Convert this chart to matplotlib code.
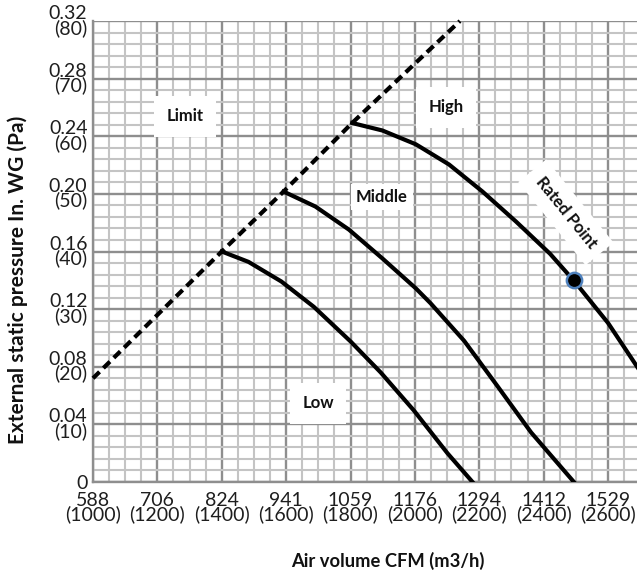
import numpy as np
import matplotlib
matplotlib.use("Agg")
import matplotlib.pyplot as plt
from matplotlib.ticker import MultipleLocator, FixedLocator

plt.rcParams['font.family'] = ['Lato', 'DejaVu Sans']

# --- data (x in m3/h, y in Pa) ---
limit_x = [1000, 1400, 1592, 1805, 2140]
limit_y = [18.0, 40.0, 50.4, 62.3, 80.0]

low_x = [1400, 1483, 1585, 1686, 1800, 1894, 1997, 2101, 2179]
low_y = [40.0, 38.2, 34.8, 30.4, 24.4, 19.0, 12.4, 5.0, 0.0]

mid_x = [1592, 1691, 1795, 1899, 2003, 2049, 2153, 2257, 2361, 2494]
mid_y = [50.4, 47.8, 43.8, 38.8, 33.6, 31.0, 24.5, 16.6, 8.6, 0.0]

high_x = [1805, 1899, 2003, 2106, 2210, 2314, 2420, 2496, 2600, 2694]
high_y = [62.3, 61.0, 58.6, 55.1, 50.4, 45.2, 39.6, 34.8, 27.6, 19.7]

rated_x = [2494]
rated_y = [35.0]

x_ticks = [1000, 1200, 1400, 1600, 1800, 2000, 2200, 2400, 2600]
x_cfm = ['588', '706', '824', '941', '1059', '1176', '1294', '1412', '1529']
y_ticks = [0, 10, 20, 30, 40, 50, 60, 70, 80]
y_inwg = ['0', '0.04', '0.08', '0.12', '0.16', '0.20', '0.24', '0.28', '0.32']

fig = plt.figure(figsize=(6.37, 5.75), dpi=100)
ax = fig.add_axes([93 / 637, 1 - 482 / 575, 1 - 93 / 637, (482 - 21) / 575])

ax.set_xlim(1000, 2690)
ax.set_ylim(0, 80)

# grid
ax.xaxis.set_major_locator(FixedLocator(x_ticks))
ax.yaxis.set_major_locator(FixedLocator(y_ticks))
ax.xaxis.set_minor_locator(MultipleLocator(50))
ax.yaxis.set_minor_locator(MultipleLocator(2))
ax.grid(which='minor', color='#c4c4c4', lw=1.5, zorder=0)
ax.grid(which='major', color='#8e8e8e', lw=1.7, zorder=0.5)
ax.set_axisbelow(True)
ax.tick_params(which='both', length=0)
for s in ['top', 'right']:
    ax.spines[s].set_visible(False)
for s in ['left', 'bottom']:
    ax.spines[s].set_color('#8e8e8e')
    ax.spines[s].set_linewidth(1.7)

ax.set_xticklabels([f'{c}\n({m})' for c, m in zip(x_cfm, x_ticks)],
                   fontsize=14, color='#1e1e1e', linespacing=0.78)
ylabels = [w if v == 0 else f'{w}\n({v})' for w, v in zip(y_inwg, y_ticks)]
ax.set_yticklabels(ylabels, fontsize=14, color='#1e1e1e', linespacing=0.78)
ax.tick_params(axis='x', pad=7)
ax.tick_params(axis='y', pad=4)

# curves
ax.plot(limit_x, limit_y, color='black', lw=3, ls=(0, (2.2, 1.3)), zorder=3, clip_on=False)
ax.plot(low_x, low_y, color='black', lw=3, zorder=3, solid_joinstyle='round')
ax.plot(mid_x, mid_y, color='black', lw=3, zorder=3, solid_joinstyle='round')
ax.plot(high_x, high_y, color='black', lw=3, zorder=3, solid_joinstyle='round')
ax.plot(rated_x, rated_y, 'o', ms=11, mfc='black', mec='#4f81bd', mew=1.8, zorder=4)

# labels in white boxes
def label(x, y, s, pad, rot=0):
    ax.text(x, y, s, fontsize=12, fontweight='bold', ha='center', va='center',
            rotation=rot, rotation_mode='anchor', color='#111111',
            bbox=dict(facecolor='white', edgecolor='none', boxstyle=f'square,pad={pad}'),
            zorder=2)

label(1286, 63.5, 'Limit', 0.75)
label(2096, 65.0, 'High', 0.75)
label(1897, 49.4, 'Middle', 0.3)
label(1699, 13.7, 'Low', 0.75)
label(2469, 46.8, 'Rated Point', 0.6, rot=-51)

fig.text(18 / 637, 1 - 280 / 575, 'External static pressure In. WG (Pa)', rotation=90,
         fontsize=15, fontweight='bold', ha='center', va='center', color='#111111')
fig.text(388 / 637, 1 - 561 / 575, 'Air volume CFM (m3/h)',
         fontsize=13.2, fontweight='bold', ha='center', va='center', color='#111111')

fig.savefig('out.png', dpi=100)
